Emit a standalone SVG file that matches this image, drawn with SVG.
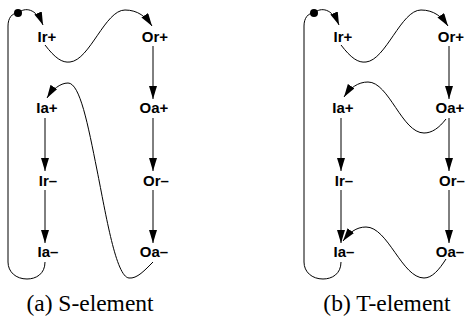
<svg xmlns="http://www.w3.org/2000/svg" width="466" height="320" viewBox="0 0 466 320">
<style>
.lbl{font-family:"Liberation Sans",Arial,sans-serif;font-weight:bold;font-size:15px;text-anchor:middle;fill:#000}
.cap{font-family:"Liberation Serif","Times New Roman",serif;font-size:23.5px;text-anchor:middle;fill:#000}
.c{fill:none;stroke:#000;stroke-width:1}
.a{marker-end:url(#ah)}
</style>
<defs>
<marker id="ah" markerUnits="userSpaceOnUse" markerWidth="14" markerHeight="9" refX="13" refY="4" orient="auto">
<path d="M0,0 L13,4 L0,8 z" fill="#000"/>
</marker>
</defs>
<rect width="466" height="320" fill="#fff"/>
<g id="panel-s">
<g id="connectors-s">
<path class="c" d="M45,262 C45,274 36,279 27,279 C16,279 8,272 8,262 L8,26 C8,18 12,13 18,13"/>
<path class="c a" d="M18,13 C25,7 36,8 43,25"/>
<path class="c a" d="M45,45 C55,58 62,63 70,62 C90,60 105,10 125,10 C138,10 146,17 152,26"/>
<path class="c a" d="M153,262 C145,270 137,279 129,278 C116,277 106,215 97,170 C88,125 80,83 68,83 C60,83 52,90 47,98"/>
<line class="c a" x1="153" y1="46" x2="153" y2="99"/>
<line class="c a" x1="153" y1="118" x2="153" y2="171"/>
<line class="c a" x1="153" y1="190" x2="153" y2="243"/>
<line class="c a" x1="45" y1="118" x2="45" y2="171"/>
<line class="c a" x1="45" y1="190" x2="45" y2="243"/>
</g>
<g id="s-token"><circle cx="18" cy="13" r="4" fill="#000"/></g>
<g id="s-Ir-plus"><text class="lbl" x="47" y="42">Ir+</text></g>
<g id="s-Or-plus"><text class="lbl" x="155" y="42">Or+</text></g>
<g id="s-Ia-plus"><text class="lbl" x="47" y="113">Ia+</text></g>
<g id="s-Oa-plus"><text class="lbl" x="154" y="113">Oa+</text></g>
<g id="s-Ir-minus"><text class="lbl" x="48" y="186">Ir–</text></g>
<g id="s-Or-minus"><text class="lbl" x="156" y="186">Or–</text></g>
<g id="s-Ia-minus"><text class="lbl" x="48" y="257">Ia–</text></g>
<g id="s-Oa-minus"><text class="lbl" x="154" y="257">Oa–</text></g>
<text class="cap" x="90" y="311">(a) S-element</text>
</g>
<g id="panel-t" transform="translate(296,0)">
<g id="connectors-t">
<path class="c" d="M45,262 C45,274 36,279 27,279 C16,279 8,272 8,262 L8,26 C8,18 12,13 18,13"/>
<path class="c a" d="M18,13 C25,7 36,8 43,25"/>
<path class="c a" d="M45,45 C55,58 62,63 70,62 C90,60 105,10 125,10 C138,10 146,17 152,26"/>
<path class="c a" d="M150,119 C143,128 136,133 128,133 C106,133 93,82 72,82 C62,82 54,88 48,97"/>
<path class="c a" d="M150,259 C143,270 136,278 128,278 C106,278 92,227 70,227 C60,227 53,233 47,241"/>
<line class="c a" x1="153" y1="46" x2="153" y2="99"/>
<line class="c a" x1="153" y1="118" x2="153" y2="171"/>
<line class="c a" x1="153" y1="190" x2="153" y2="243"/>
<line class="c a" x1="45" y1="118" x2="45" y2="171"/>
<line class="c a" x1="45" y1="190" x2="45" y2="243"/>
</g>
<g id="t-token"><circle cx="18" cy="13" r="4" fill="#000"/></g>
<g id="t-Ir-plus"><text class="lbl" x="47" y="42">Ir+</text></g>
<g id="t-Or-plus"><text class="lbl" x="155" y="42">Or+</text></g>
<g id="t-Ia-plus"><text class="lbl" x="47" y="113">Ia+</text></g>
<g id="t-Oa-plus"><text class="lbl" x="154" y="113">Oa+</text></g>
<g id="t-Ir-minus"><text class="lbl" x="48" y="186">Ir–</text></g>
<g id="t-Or-minus"><text class="lbl" x="156" y="186">Or–</text></g>
<g id="t-Ia-minus"><text class="lbl" x="48" y="257">Ia–</text></g>
<g id="t-Oa-minus"><text class="lbl" x="154" y="257">Oa–</text></g>
<text class="cap" x="91" y="311">(b) T-element</text>
</g>
</svg>
